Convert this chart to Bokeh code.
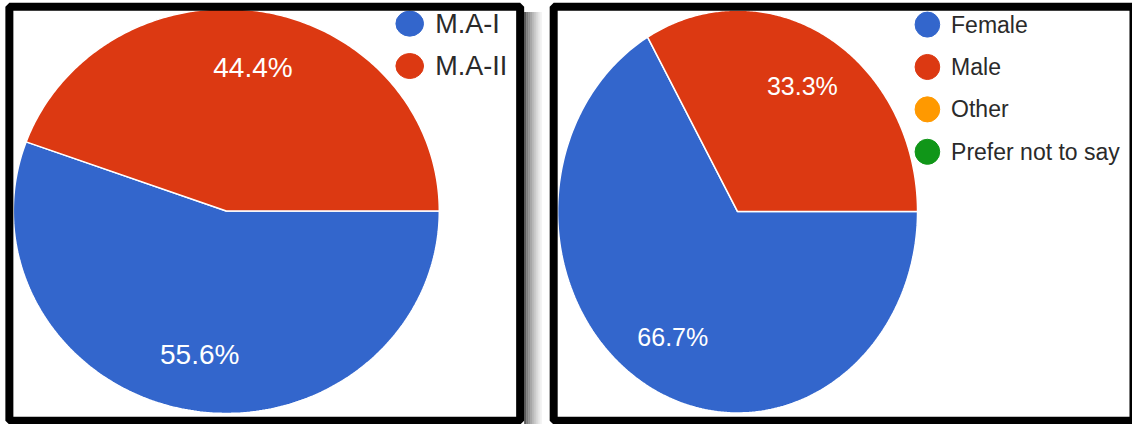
import numpy as np
from bokeh.plotting import figure
from bokeh.models import Range1d, ColumnDataSource
from bokeh.embed import file_html
from bokeh.resources import INLINE
from bokeh.core.properties import value

# ---- data ----
course_labels = ["M.A-I", "M.A-II"]
course_counts = [5, 4]
course_colors = ["#3366CC", "#DC3912"]

gender_labels = ["Female", "Male", "Other", "Prefer not to say"]
gender_counts = [6, 3, 0, 0]
gender_colors = ["#3366CC", "#DC3912", "#FF9900", "#109618"]

FONT = value("Liberation Sans")

p = figure(width=1132, height=424, x_range=Range1d(0, 1148), y_range=Range1d(440, 0),
           x_axis_type=None, y_axis_type=None, output_backend="svg",
           toolbar_location=None, min_border=0)
p.grid.visible = False
p.outline_line_color = None
p.background_fill_color = "white"


def draw_pie(counts, colors, cx, cy, rx, ry, label_size):
    total = float(sum(counts))
    start = 0.0
    xs, ys, cols, lx, ly, lt = [], [], [], [], [], []
    for c, col in zip(counts, colors):
        if c == 0:
            continue
        frac = c / total
        a0, a1 = 2 * np.pi * start, 2 * np.pi * (start + frac)
        t = np.linspace(a0, a1, 240)
        xs.append([cx] + list(cx + rx * np.cos(t)) + [cx])
        ys.append([cy] + list(cy + ry * np.sin(t)) + [cy])
        cols.append(col)
        mid = (a0 + a1) / 2
        lx.append(cx + 0.72 * rx * np.cos(mid))
        ly.append(cy + 0.72 * ry * np.sin(mid))
        lt.append(f"{frac * 100:.1f}%")
        start += frac
    p.patches(xs=xs, ys=ys, fill_color=cols, line_color="white", line_width=1.5)
    p.text(x=lx, y=ly, text=lt, text_align="center", text_baseline="middle",
           text_color="white", text_font=FONT, text_font_size=label_size)


def draw_legend(labels, colors, x0, y0, dy, ew, eh, size, gap):
    ys = [y0 + i * dy for i in range(len(labels))]
    src = ColumnDataSource(dict(x=[x0] * len(labels), y=ys, c=colors,
                                tx=[x0 + gap] * len(labels), t=labels))
    p.ellipse(x="x", y="y", width=ew, height=eh, fill_color="c", line_color="c", source=src)
    p.text(x="tx", y="y", text="t", text_align="left", text_baseline="middle",
           text_color="#2a2a2a", text_font=FONT, text_font_size=size, source=src)


# left pie
draw_pie(course_counts, course_colors, 229, 218.5, 216, 210, "28px")
draw_legend(course_labels, course_colors, 415, 24, 44, 28, 26, "27px", 26)

# right pie
draw_pie(gender_counts, gender_colors, 747.5, 219, 182.5, 209, "25px")
draw_legend(gender_labels, gender_colors, 940, 25, 44, 25, 26, "23px", 24)

# shadow right of left panel
n = 10
for i in range(n):
    g = int(90 + (255 - 90) * (i / (n - 1)) ** 0.7)
    p.quad(left=[531 + 2 * i], right=[533 + 2 * i], top=[12], bottom=[440],
           fill_color=f"#{g:02x}{g:02x}{g:02x}", line_color=None)

# panel borders
p.quad(left=[9, 561], right=[527, 1149], top=[6.5, 6.5], bottom=[436, 436],
       fill_color=None, line_color="black", line_width=8)

open("out.html", "w").write(file_html(p, INLINE))
